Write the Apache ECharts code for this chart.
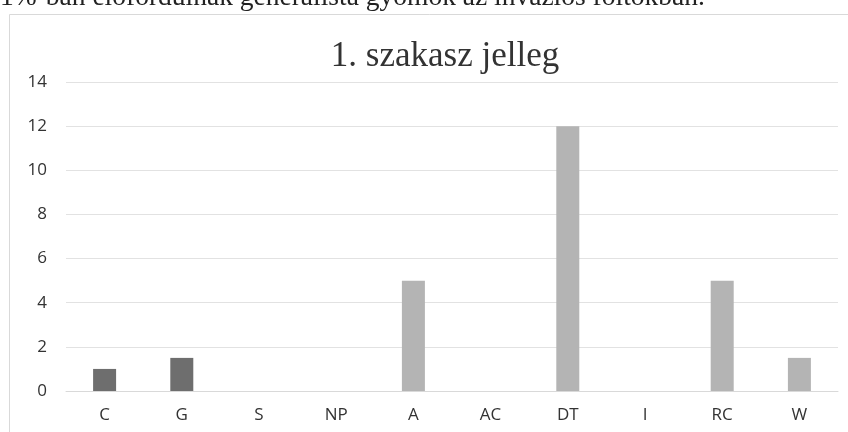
<!DOCTYPE html>
<html><head><meta charset="utf-8">
<script src="https://cdn.jsdelivr.net/npm/echarts@6/dist/echarts.min.js"></script>
<style>html,body{margin:0;padding:0;background:#fff}#c{width:848px;height:432px}</style>
</head><body><div id="c"></div>
<script>
const categories = ['C','G','S','NP','A','AC','DT','I','RC','W'];
const values = [1, 1.5, 0, 0, 5, 0, 12, 0, 5, 1.5];
const barColors = ['#6e6e6e','#6e6e6e','#b4b4b4','#b4b4b4','#b4b4b4','#b4b4b4','#b4b4b4','#b4b4b4','#b4b4b4','#b4b4b4'];
const yTicks = [0, 2, 4, 6, 8, 10, 12, 14];
const titleText = '1. szakasz jelleg';
const topText = '1%-ban előfordulnak generalista gyomok az inváziós foltokban.';

const chart = echarts.init(document.getElementById('c'), null, {renderer:'canvas'});
chart.setOption({
  animation: false,
  backgroundColor: '#fff',
  graphic: [
    {type:'rect', shape:{x:9.5, y:14.5, width:850, height:430}, style:{fill:'none', stroke:'#d9d9d9', lineWidth:1}},
    {type:'text', left:0, top:-16, style:{text: topText, font:'27.5px "Liberation Serif"', fill:'#222'}}
  ],
  title: {text: titleText, left: 440, top: 34, textAlign:'center',
    textStyle:{fontFamily:'Liberation Serif', fontSize:35, fontWeight:'normal', color:'#333'}},
  grid: {left: 66, right: 10, top: 82, bottom: 41},
  xAxis: {type:'category', data: categories,
    axisLine:{show:true, lineStyle:{color:'#d9d9d9'}}, axisTick:{show:false},
    axisLabel:{color:'#333', fontFamily:'Open Sans', fontSize:17, margin:16}},
  yAxis: {type:'value', min: yTicks[0], max: yTicks[yTicks.length-1], interval: 2,
    axisLine:{show:false}, axisTick:{show:false},
    splitLine:{lineStyle:{color:'#e2e2e2'}},
    axisLabel:{color:'#333', fontFamily:'Open Sans', fontSize:17, margin:19}},
  series: [{type:'bar', data: values.map((v,i)=>({value:v, itemStyle:{color:barColors[i]}})), barWidth: 23}]
});
</script></body></html>
